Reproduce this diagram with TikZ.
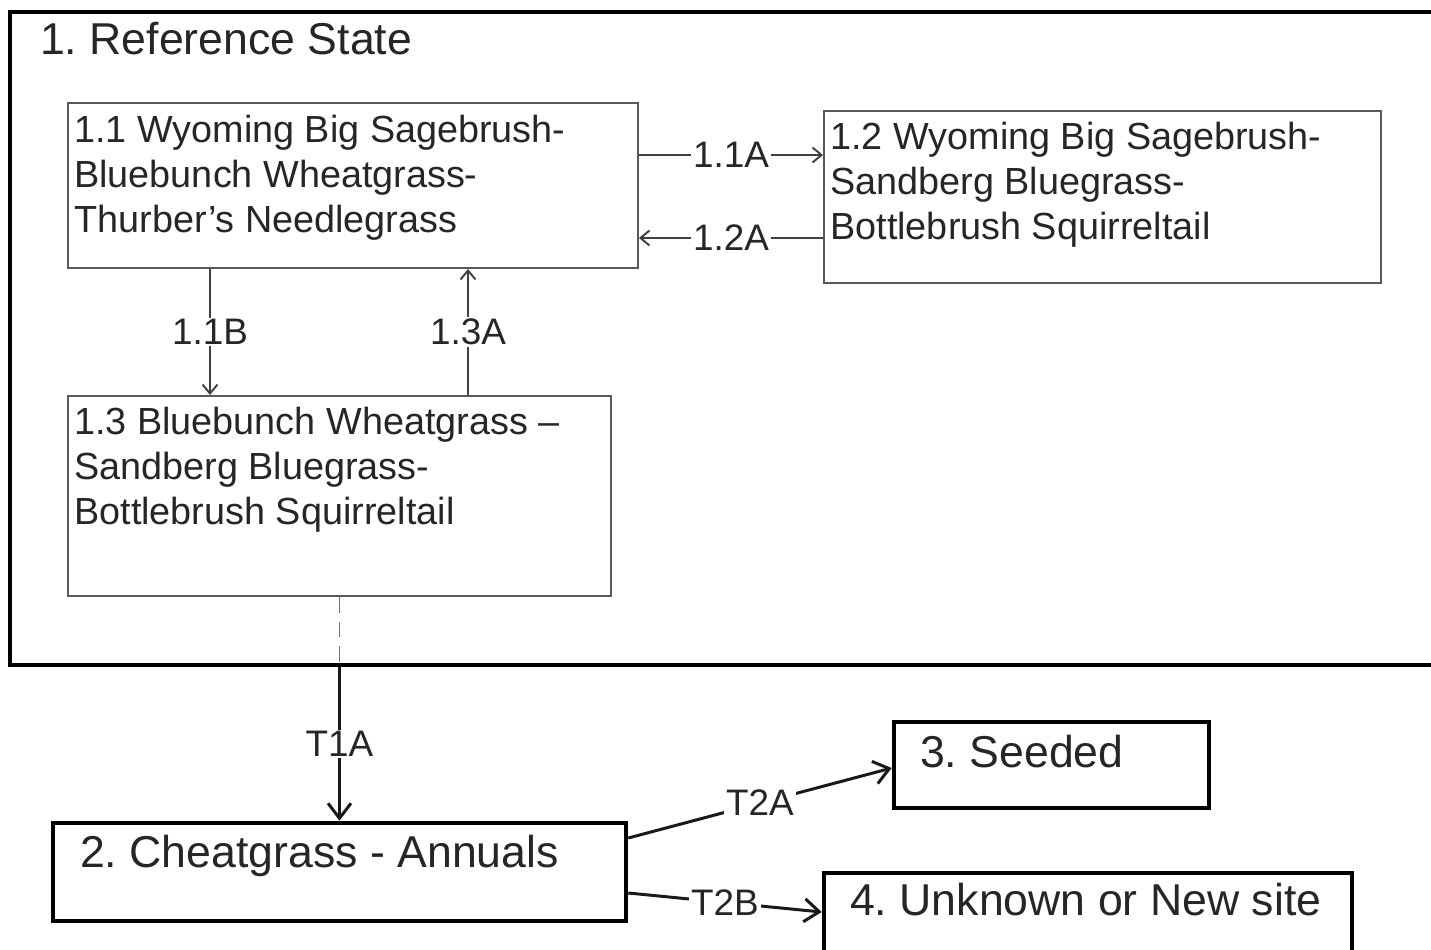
\documentclass[tikz,border=0pt]{standalone}
\usepackage{fontspec}
\setmainfont{Liberation Sans}
\frenchspacing
\usetikzlibrary{arrows.meta,calc,positioning}
\tikzset{
  stateBox/.style={draw=black!65, line width=1.1pt, rectangle, inner sep=0pt},
  groupBox/.style={draw=black, line width=2.6pt, rectangle, inner sep=0pt},
  stateText/.style={align=left, inner sep=0pt, text=black!85, font=\fontsize{21.5}{25.6}\selectfont},
  groupText/.style={inner sep=0pt, text=black!85, font=\fontsize{25.4}{30}\selectfont},
  pathLabel/.style={midway, fill=white, inner sep=1pt, text=black!85, font=\fontsize{21}{25}\selectfont},
  pathArrow/.style={-{Straight Barb[length=1.8mm,width=3mm]}, draw=black!75, line width=1.1pt},
  transArrow/.style={-{Straight Barb[length=3mm,width=4.6mm]}, draw=black!90, line width=1.7pt},
  transDashed/.style={draw=black!55, line width=1.1pt, dash pattern=on 9pt off 5pt}
}

\begin{document}
\begin{tikzpicture}
      \useasboundingbox (0,0) rectangle (28.62,-18.98);
      % reference state frame
      \node[groupBox, minimum width=28.9cm, minimum height=13.06cm] (refstate) at (14.65,-6.77) {};
      \node[groupText, below right=0.25 and 0.64 of refstate.north west, anchor=north west] (reftitle) {1. Reference State};
      % community phases
      \node[stateBox, minimum width=11.4cm, minimum height=3.3cm] (b11) at (7.06,-3.71) {};
      \node[stateText, below right=0.25 and 0.14 of b11.north west] (t11) {1.1 Wyoming Big Sagebrush-\\Bluebunch Wheatgrass-\\Thurber’s Needlegrass};
      \node[stateBox, minimum width=11.14cm, minimum height=3.44cm] (b12) at (22.05,-3.94) {};
      \node[stateText, below right=0.23 and 0.14 of b12.north west] (t12) {1.2 Wyoming Big Sagebrush-\\Sandberg Bluegrass-\\Bottlebrush Squirreltail};
      \node[stateBox, minimum width=10.86cm, minimum height=4cm] (b13) at (6.79,-9.92) {};
      \node[stateText, below right=0.23 and 0.14 of b13.north west] (t13) {1.3 Bluebunch Wheatgrass –\\Sandberg Bluegrass-\\Bottlebrush Squirreltail};
      % other states
      \node[groupBox, minimum width=11.46cm, minimum height=1.96cm] (b2) at (6.79,-17.44) {};
      \node[groupText, below right=0.29 and 0.58 of b2.north west] (t2) {2. Cheatgrass - Annuals};
      \node[groupBox, minimum width=6.3cm, minimum height=1.72cm] (b3) at (21.03,-15.3) {};
      \node[groupText, below right=0.31 and 0.56 of b3.north west] (t3) {3. Seeded};
      \node[groupBox, minimum width=10.56cm, minimum height=1.9cm] (b4) at (21.76,-18.41) {};
      \node[groupText, below right=0.25 and 0.56 of b4.north west] (t4) {4. Unknown or New site};
      % pathways
      \draw[pathArrow] ([yshift=0.61cm]b11.east) -- node[pathLabel] {1.1A} ([yshift=0.61cm]b11.east -| b12.west);
      \draw[pathArrow] ([yshift=-0.82cm]b12.west) -- node[pathLabel] {1.2A} ([yshift=-0.82cm]b12.west -| b11.east);
      \draw[pathArrow] ([xshift=-2.86cm]b11.south) -- node[pathLabel] {1.1B} ([xshift=-2.86cm]b11.south |- b13.north);
      \draw[pathArrow] ([xshift=2.57cm]b13.north) -- node[pathLabel] {1.3A} ([xshift=2.57cm]b13.north |- b11.south);
      % transitions
      \coordinate (t1aStart) at (b13.south |- refstate.south);
      \draw[transDashed] (b13.south) -- (t1aStart);
      \draw[transArrow] (t1aStart) -- node[pathLabel] {T1A} (b2.north);
      \draw[transArrow] ([yshift=0.68cm]b2.east) -- node[pathLabel] {T2A} ([yshift=-0.06cm]b3.west);
      \draw[transArrow] ([yshift=-0.42cm]b2.east) -- node[pathLabel] {T2B} ([yshift=0.17cm]b4.west);
    \end{tikzpicture}
\end{document}
